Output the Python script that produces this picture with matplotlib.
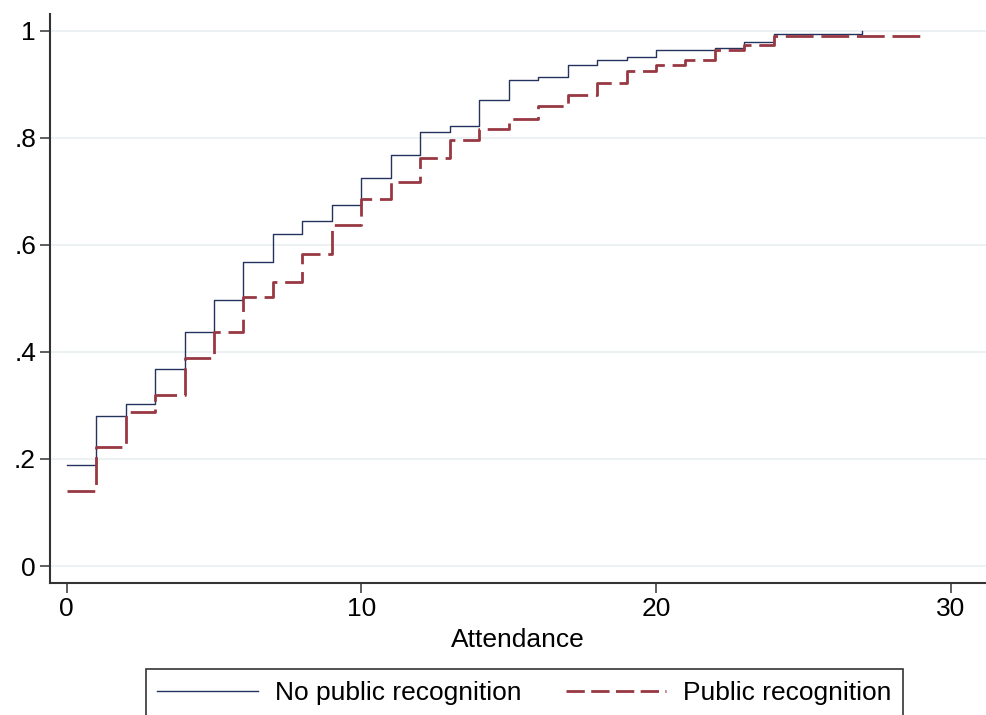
import matplotlib.pyplot as plt
from matplotlib.lines import Line2D

# cumulative share by attendance, one series per treatment group
attend_no = list(range(0, 28))
cdf_no = [0.189, 0.280, 0.303, 0.368, 0.438, 0.497, 0.567, 0.621, 0.644, 0.675,
          0.724, 0.768, 0.811, 0.821, 0.871, 0.908, 0.913, 0.935, 0.946, 0.951,
          0.963, 0.963, 0.967, 0.978, 0.994, 0.994, 0.994, 1.000]

attend_pub = list(range(0, 30))
cdf_pub = [0.140, 0.222, 0.287, 0.319, 0.389, 0.438, 0.503, 0.530, 0.583, 0.637,
           0.686, 0.718, 0.762, 0.795, 0.817, 0.834, 0.859, 0.880, 0.903, 0.924,
           0.935, 0.946, 0.963, 0.973, 0.989, 0.989, 0.989, 0.989, 0.989, 1.000]

yticks = [0, 0.2, 0.4, 0.6, 0.8, 1.0]
ytick_labels = ['0', '.2', '.4', '.6', '.8', '1']
xticks = [0, 10, 20, 30]

navy = '#24335e'
maroon = '#983842'

plt.rcParams['font.family'] = ['Liberation Sans', 'DejaVu Sans']

fig = plt.figure(figsize=(9.86, 7.15), dpi=100)
ax = fig.add_axes([50/986, 1 - 582.7/715, 1 - 50/986, (582.7 - 14)/715])

for y in yticks:
    ax.axhline(y, color='#eaf1f2', lw=1.3, zorder=0)

ax.step(attend_no, cdf_no, where='post', color=navy, lw=1.0)
ax.step(attend_pub, cdf_pub, where='post', color=maroon, lw=2.0,
        dashes=(10.0, 2.8))

ax.set_xlim(-0.567, 31.2)
ax.set_ylim(-0.031, 1.031)
ax.set_xticks(xticks)
ax.set_yticks(yticks)
ax.set_yticklabels(ytick_labels)

ax.spines['right'].set_visible(False)
ax.spines['top'].set_visible(False)
for s in ['left', 'bottom']:
    ax.spines[s].set_linewidth(1.5)
    ax.spines[s].set_color('#333333')
ax.tick_params(length=7, width=1.1, color='#333333', labelsize=19, pad=3)

ax.set_xlabel('Attendance', fontsize=19, labelpad=5)

handles = [Line2D([], [], color=navy, lw=1.0),
           Line2D([], [], color=maroon, lw=2.0, dashes=(6.6, 2.3))]
leg = fig.legend(handles, ['No public recognition', 'Public recognition'],
                 loc='upper center', bbox_to_anchor=(524.5/986, 1 - 669/715),
                 ncol=2, frameon=True, fancybox=False, edgecolor='black',
                 handlelength=3.8, handletextpad=0.64, columnspacing=1.7,
                 borderpad=0.45, borderaxespad=0,
                 prop={'size': 19})
leg.get_frame().set_linewidth(1.2)

fig.savefig('out.png', dpi=100)
